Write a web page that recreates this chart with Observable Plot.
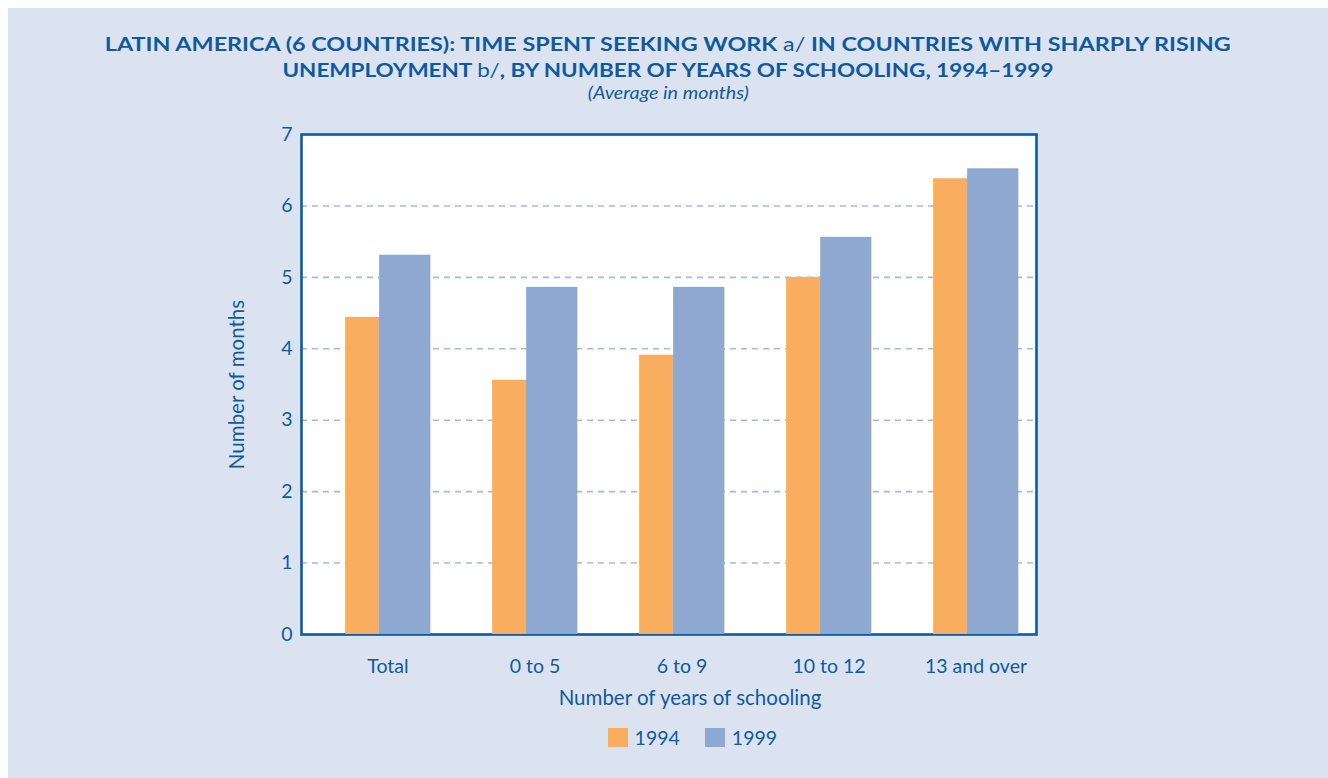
<!DOCTYPE html>
<html>
<head>
<meta charset="utf-8">
<script src="https://cdn.jsdelivr.net/npm/d3@7"></script>
<script src="https://cdn.jsdelivr.net/npm/@observablehq/plot@0.6"></script>
<style>
  body { margin: 0; background: #ffffff; }
  #panel { position: absolute; left: 8px; top: 8px; width: 1320px; height: 770px; background: #dce3f0; overflow: hidden; font-family: Lato, "Open Sans", sans-serif; color: #0f5a9c; }
  .line { position: absolute; left: 0; width: 1320px; text-align: center; white-space: nowrap; }
  .line span.inner { display: inline-block; transform-origin: 50% 50%; }
  .t { font-weight: 700; font-size: 19px; line-height: 19px; }
  .t .fn { font-weight: 400; }
  .sub { font-style: italic; font-size: 17px; line-height: 17px; }
  #chart { position: absolute; left: 0; top: 102px; }
  #legend { position: absolute; top: 720px; left: 599.6px; display: flex; align-items: flex-start; font-size: 19.5px; line-height: 19px; }
  .sw { width: 20px; height: 19px; display: inline-block; }
</style>
</head>
<body>
<div id="panel">
  <div class="line t" style="top:26px"><span class="inner" id="t1" data-w="1126">LATIN AMERICA (6 COUNTRIES): TIME SPENT SEEKING WORK <span class="fn">a/</span> IN COUNTRIES WITH SHARPLY RISING</span></div>
  <div class="line t" style="top:51.5px"><span class="inner" id="t2" data-w="771">UNEMPLOYMENT <span class="fn">b/</span>, BY NUMBER OF YEARS OF SCHOOLING, 1994–1999</span></div>
  <div class="line sub" style="top:76px"><span class="inner" id="t3" data-w="161">(Average in months)</span></div>
  <div id="chart"></div>
  <div id="legend"></div>
</div>
<script>
// ---- data ----
const categories = ["Total", "0 to 5", "6 to 9", "10 to 12", "13 and over"];
const values1994 = [4.44, 3.56, 3.91, 5.00, 6.38];
const values1999 = [5.31, 4.86, 4.86, 5.56, 6.52];
const seriesNames = ["1994", "1999"];
const yTicks = [0, 1, 2, 3, 4, 5, 6, 7];
const xTitle = "Number of years of schooling";
const yTitle = "Number of months";

// ---- styles ----
const textColor = "#0f5a9c";
const frameColor = "#0b5ba1";
const gridColor = "#a7b9dc";
const colors = ["#f8ae5e", "#8fa8cf"];

const rows1994 = categories.map((c, i) => ({category: c, value: values1994[i], series: seriesNames[0]}));
const rows1999 = categories.map((c, i) => ({category: c, value: values1999[i], series: seriesNames[1]}));

const bandStart = 304.85, step = 147.3, barW = 51.5;
const chart = Plot.plot({
  width: 1320,
  height: 668,
  marginLeft: 293,
  marginRight: 292,
  marginTop: 24,
  marginBottom: 144,
  style: {background: "transparent", fontFamily: "Lato, 'Open Sans', sans-serif", fontSize: "19.5px", color: textColor},
  x: {type: "band", domain: categories, range: [bandStart, bandStart + step * categories.length], padding: 0, label: null},
  y: {domain: [0, 7], label: null},
  marks: [
    Plot.frame({fill: "white", stroke: null}),
    Plot.gridY(yTicks.slice(1, -1), {stroke: gridColor, strokeOpacity: 1, strokeWidth: 1.6, strokeDasharray: "6,5"}),
    Plot.frame({stroke: frameColor, strokeWidth: 2.6}),
    Plot.barY(rows1994, {x: "category", y: "value", fill: colors[0], insetLeft: 31.15, insetRight: step - 31.15 - barW}),
    Plot.barY(rows1999, {x: "category", y: "value", fill: colors[1], insetLeft: 65.15, insetRight: step - 65.15 - barW}),
    Plot.axisY(yTicks, {tickSize: 0, tickPadding: 9, tickFormat: d3.format("d"), label: null, fontSize: 19.5}),
    Plot.axisX({tickSize: 0, tickPadding: 25, label: null, fontSize: 19.5}),
    Plot.text([yTitle], {frameAnchor: "left", textAnchor: "middle", rotate: -90, dx: -64, fontSize: 20.5, fill: textColor}),
    Plot.text([xTitle], {frameAnchor: "bottom", textAnchor: "middle", dy: 70, dx: 21, fontSize: 20.5, fill: textColor})
  ]
});
document.getElementById("chart").appendChild(chart);

// legend
const legend = document.getElementById("legend");
seriesNames.forEach((name, i) => {
  const sw = document.createElement("span");
  sw.className = "sw";
  sw.style.background = colors[i];
  sw.style.marginLeft = i === 0 ? "0px" : "25px";
  const tx = document.createElement("span");
  tx.textContent = name;
  tx.style.marginLeft = "7px";
  legend.appendChild(sw);
  legend.appendChild(tx);
});

// fit title widths
document.querySelectorAll(".inner").forEach(el => {
  const w = el.getBoundingClientRect().width;
  const target = +el.dataset.w;
  el.style.transform = `scaleX(${target / w})`;
});
</script>
</body>
</html>
